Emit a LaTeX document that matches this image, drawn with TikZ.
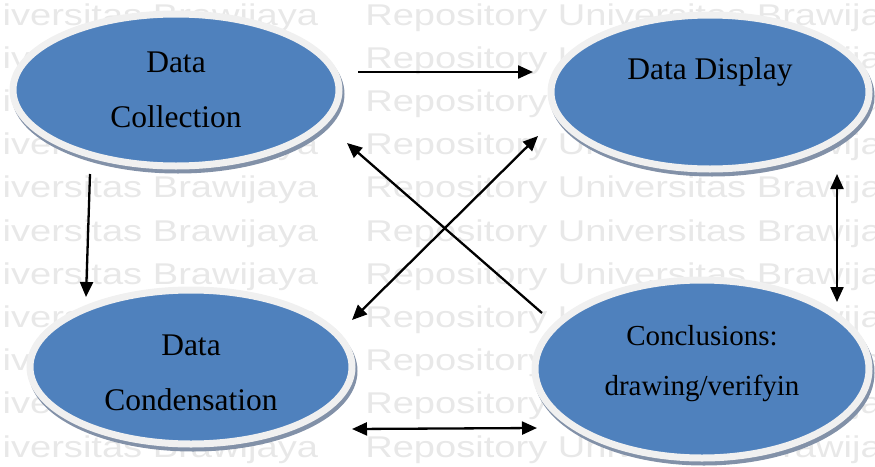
\documentclass[tikz,border=0pt]{standalone}
\usepackage{fontspec}
\setmainfont{Liberation Serif}
\newfontfamily\wmfont{Liberation Sans}
\usepackage{tikz}
\usetikzlibrary{arrows.meta, positioning, shapes.geometric, shadows}
\usepackage{xcolor}
\definecolor{blobfill}{RGB}{79,129,189}
\definecolor{rimgray}{RGB}{240,240,240}
\definecolor{shadowgray}{RGB}{130,145,168}

\begin{document}
\begin{tikzpicture}[
        x=1pt, y=-1pt,
        blob/.style={ellipse, fill=blobfill, draw=rimgray, line width=7pt, inner sep=0pt,
            drop shadow={shadow xshift=2pt, shadow yshift=-4pt, fill=shadowgray,
                draw=shadowgray, line width=7pt, opacity=1}},
        stagetext/.style={align=center, inner sep=0pt, font=\fontsize{31.5}{55}\selectfont},
        wmtext/.style={anchor=base west, inner sep=0pt, xscale=1.27, text=black!9,
            font=\wmfont\fontsize{30}{30}\selectfont},
        link/.style={line width=2.3pt, -{Triangle[length=15pt, width=13pt]}},
        both/.style={line width=2.3pt, {Triangle[length=15pt, width=13pt]}-{Triangle[length=15pt, width=13pt]}}
    ]
        \useasboundingbox (0,0) rectangle (875,466);

        % Watermark rows
        \foreach \k in {0,...,10} {
            \node[wmtext] (wmL\k) at (-239, 25+43.2*\k) {Repository Universitas Brawijaya};
            \node[wmtext] (wmR\k) at (365, 25+43.2*\k) {Repository Universitas Brawijaya};
        }

        % Stages
        \node[blob, minimum width=326pt, minimum height=152pt] (coll) at (176,90) {};
        \node[blob, minimum width=318pt, minimum height=154pt] (disp) at (710,92) {};
        \node[blob, minimum width=322pt, minimum height=154pt] (cond) at (191,367) {};
        \node[blob, minimum width=334pt, minimum height=178pt] (concl) at (702,369) {};

        \node[stagetext] (collTxt) at (coll) {Data\\Collection};
        \node[stagetext, anchor=base] (dispTxt) at ([yshift=13pt]disp.center) {Data Display};
        \node[stagetext] (condTxt) at ([yshift=-6pt]cond.center) {Data\\Condensation};
        \node[stagetext, font=\fontsize{29}{50}\selectfont] (conclTxt) at ([yshift=5pt]concl.center)
            {Conclusions:\\drawing/verifyin};

        % Arrow ends
        \coordinate (collE) at (358,72);
        \coordinate (dispW) at (533,72);
        \coordinate (collS) at (90,174);
        \coordinate (condN) at (86,297);
        \coordinate (collSE) at (347,143);
        \coordinate (conclNW) at (542,313);
        \coordinate (condNE) at (352,320);
        \coordinate (dispSW) at (538,136);
        \coordinate (dispS) at (837,174);
        \coordinate (conclN) at (837,302);
        \coordinate (condE) at (352,429);
        \coordinate (conclW) at (537,428);

        % Flows
        \draw[link] (collE) -- (dispW);
        \draw[link] (collS) -- (condN);
        \draw[link] (conclNW) -- (collSE);
        \draw[both] (condNE) -- (dispSW);
        \draw[both] (dispS) -- (conclN);
        \draw[both] (condE) -- (conclW);
    \end{tikzpicture}
\end{document}
